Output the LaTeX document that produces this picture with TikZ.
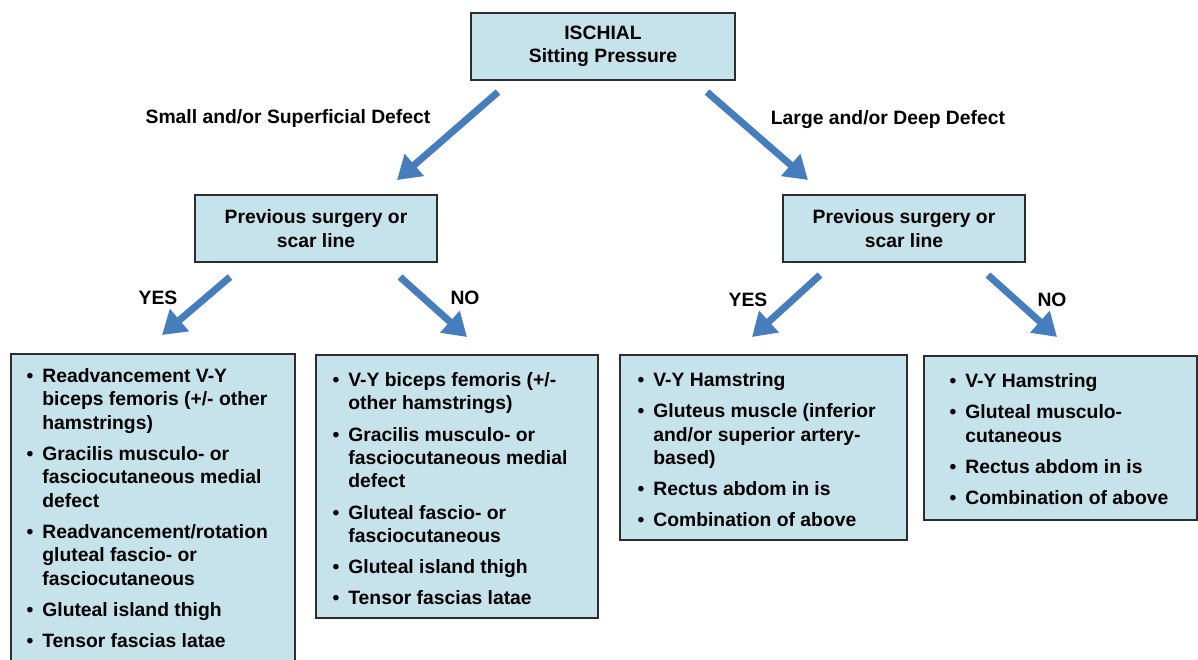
\documentclass[tikz,border=0pt]{standalone}
\usepackage{fontspec}
\setmainfont{Liberation Sans}
\usetikzlibrary{arrows.meta}

\definecolor{boxfill}{RGB}{198,227,236}
\definecolor{boxline}{RGB}{45,45,45}
\definecolor{arrowblue}{RGB}{70,126,189}

\newcommand{\bul}{\llap{\textbullet\hspace{0.18cm}}}

\begin{document}
\begin{tikzpicture}[
        every node/.style={font=\fontsize{11}{13.3}\selectfont\bfseries},
        decision/.style={draw=boxline, line width=0.04cm, fill=boxfill, align=center, inner sep=0},
        listbox/.style={draw=boxline, line width=0.04cm, fill=boxfill, anchor=north west, inner sep=0},
        listtext/.style={anchor=north west, align=left, inner sep=0},
        flow/.style={arrowblue, line width=0.14cm, -{Triangle[length=0.46cm, width=0.56cm]}}
    ]

            \useasboundingbox (0, 0) rectangle (23.96, -13.18);

            % Root
            \node at (12.06, -0.93) [decision, minimum width=5.28cm, minimum height=1.34cm] (root) {ISCHIAL\\Sitting Pressure};

            %% Defect size
            \coordinate (smallS) at (9.96, -1.84);
            \coordinate (smallT) at (7.94, -3.60);
            \coordinate (largeS) at (14.14, -1.84);
            \coordinate (largeT) at (16.16, -3.60);
            \draw [flow] (smallS) -- (smallT);
            \draw [flow] (largeS) -- (largeT);
            \node at (5.76, -2.36) (small) {Small and/or Superficial Defect};
            \node at (17.76, -2.40) (large) {Large and/or Deep Defect};

            % Left branch
            \node at (6.32, -4.57) [decision, minimum width=4.84cm, minimum height=1.34cm] (prevL) {Previous surgery or\\scar line};

            %% Yes / no
            \coordinate (yesLS) at (4.60, -5.54);
            \coordinate (yesLT) at (3.24, -6.70);
            \coordinate (noLS) at (8.00, -5.54);
            \coordinate (noLT) at (9.34, -6.74);
            \draw [flow] (yesLS) -- (yesLT);
            \draw [flow] (noLS) -- (noLT);
            \node at (3.16, -5.96) (yesL) {YES};
            \node at (9.30, -5.96) (noL) {NO};

            %% Options
            \node at (0.20, -7.06) [listbox, minimum width=5.68cm, minimum height=6.6cm] (yesLbox) {};
            \node at (0.84, -7.36) [listtext] (yesLtxt) {\bul Readvancement V-Y\\ biceps femoris (+/- other\\ hamstrings)\\[4.5pt]
                \bul Gracilis musculo- or\\ fasciocutaneous medial\\ defect\\[4.5pt]
                \bul Readvancement/rotation\\ gluteal fascio- or\\ fasciocutaneous\\[4.5pt]
                \bul Gluteal island thigh\\[4.5pt]
                \bul Tensor fascias latae};

            \node at (6.30, -7.08) [listbox, minimum width=5.64cm, minimum height=5.26cm] (noLbox) {};
            \node at (6.96, -7.44) [listtext] (noLtxt) {\bul V-Y biceps femoris (+/-\\ other hamstrings)\\[4.5pt]
                \bul Gracilis musculo- or\\ fasciocutaneous medial\\ defect\\[4.5pt]
                \bul Gluteal fascio- or\\ fasciocutaneous\\[4.5pt]
                \bul Gluteal island thigh\\[4.5pt]
                \bul Tensor fascias latae};

            % Right branch
            \node at (18.08, -4.57) [decision, minimum width=4.84cm, minimum height=1.34cm] (prevR) {Previous surgery or\\scar line};

            %% Yes / no
            \coordinate (yesRS) at (16.40, -5.50);
            \coordinate (yesRT) at (15.04, -6.74);
            \coordinate (noRS) at (19.76, -5.50);
            \coordinate (noRT) at (21.14, -6.74);
            \draw [flow] (yesRS) -- (yesRT);
            \draw [flow] (noRS) -- (noRT);
            \node at (14.96, -6.00) (yesR) {YES};
            \node at (21.04, -6.00) (noR) {NO};

            %% Options
            \node at (12.38, -7.08) [listbox, minimum width=5.74cm, minimum height=3.70cm] (yesRbox) {};
            \node at (13.06, -7.44) [listtext] (yesRtxt) {\bul V-Y Hamstring\\[4.5pt]
                \bul Gluteus muscle (inferior\\ and/or superior artery-\\ based)\\[4.5pt]
                \bul Rectus abdom in is\\[4.5pt]
                \bul Combination of above};

            \node at (18.46, -7.10) [listbox, minimum width=5.46cm, minimum height=3.28cm] (noRbox) {};
            \node at (19.30, -7.46) [listtext] (noRtxt) {\bul V-Y Hamstring\\[4.5pt]
                \bul Gluteal musculo-\\ cutaneous\\[4.5pt]
                \bul Rectus abdom in is\\[4.5pt]
                \bul Combination of above};
        \end{tikzpicture}
\end{document}
